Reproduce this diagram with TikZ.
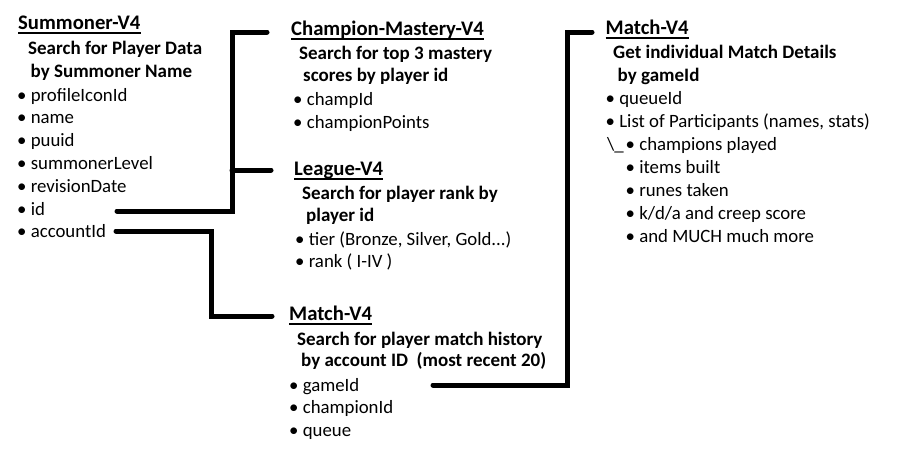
\documentclass[tikz,border=0pt]{standalone}
\usepackage{fontspec}
\setmainfont{Carlito}
\tikzset{
  title/.style={anchor=base west, inner sep=0pt, font=\fontsize{20.7}{24}\selectfont\bfseries},
  sub/.style={anchor=base west, inner sep=0pt, font=\fontsize{19}{22}\selectfont\bfseries},
  item/.style={anchor=base west, inner sep=0pt, font=\fontsize{18.8}{22}\selectfont},
  uline/.style={line width=2pt},
  link/.style={line width=5pt, line cap=round}
}
\begin{document}
\begin{tikzpicture}[x=1pt, y=-1pt]
\fill[white] (0,0) rectangle (919,450);
\useasboundingbox (0,0) rectangle (919,450);
% Summoner-V4
\node[title] (sumT) at (18,29.3) {Summoner-V4};
\node[sub] (sumS1) at (28,54.3) {Search for Player Data};
\node[sub] (sumS2) at (30.5,77.3) {by Summoner Name};
\foreach \t [count=\i] in {profileIconId, name, puuid, summonerLevel, revisionDate}
  \node[item] (sum\i) at (17,{101+22.8*(\i-1)}) {• \t};
\node[item] (sumId) at (17,215) {• id};
\node[item] (sumAcc) at (17,237.8) {• accountId};
% Champion-Mastery-V4
\node[title] (cmT) at (291,35) {Champion-Mastery-V4};
\node[sub] (cmS1) at (299,59.3) {Search for top 3 mastery};
\node[sub] (cmS2) at (303,81.7) {scores by player id};
\node[item] (cm1) at (293,105) {• champId};
\node[item] (cm2) at (293,128.3) {• championPoints};
% League-V4
\node[title] (lgT) at (294,175) {League-V4};
\node[sub] (lgS1) at (302,199) {Search for player rank by};
\node[sub] (lgS2) at (306,221.7) {player id};
\node[item] (lg1) at (295,245) {• tier (Bronze, Silver, Gold...)};
\node[item] (lg2) at (295,267.7) {• rank ( I-IV )};
% Match-V4 (history)
\node[title] (mhT) at (289,320.7) {Match-V4};
\node[sub] (mhS1) at (297,345) {Search for player match history};
\node[sub] (mhS2) at (301,366.7) {by account ID\ \ (most recent 20)};
\node[item] (mhGame) at (289,391) {• gameId};
\node[item] (mh2) at (289,413.3) {• championId};
\node[item] (mh3) at (289,436) {• queue};
% Match-V4 (details)
\node[title] (mdT) at (605.5,34.3) {Match-V4};
\node[sub] (mdS1) at (613,58.3) {Get individual Match Details};
\node[sub] (mdS2) at (617.5,81.7) {by gameId};
\node[item] (md1) at (605.5,104.3) {• queueId};
\node[item] (md2) at (605.5,127.7) {• List of Participants (names, stats)};
\node[item] (mdSl) at (607,150.7) {\textbackslash\_};
\node[item] (md3) at (625.5,150.7) {• champions played};
\foreach \t [count=\i from 4] in {items built, runes taken, k/d/a and creep score, and MUCH much more}
  \node[item] (md\i) at (625.5,{173.3+23*(\i-4)}) {• \t};
% underlines
\foreach \n in {sumT, cmT, lgT, mhT, mdT}
  \draw[uline] ([yshift=-3.5pt]\n.base west) -- ([yshift=-3.5pt]\n.base east);
% connectors
\coordinate (idEnd) at (117,211);
\coordinate (accEnd) at (116,231);
\coordinate (gameEnd) at (433,385);
\coordinate (cmIn) at (267,32);
\coordinate (lgIn) at (271,170);
\coordinate (mhIn) at (272,316);
\coordinate (mdIn) at (592,32);
\draw[link] (idEnd) -- ++(115,0) |- (cmIn);
\draw[link] (lgIn) -- ++(-39,0);
\draw[link] (accEnd) -- ++(95,0) |- (mhIn);
\draw[link] (gameEnd) -- ++(134.5,0) |- (mdIn);
\end{tikzpicture}
\end{document}
